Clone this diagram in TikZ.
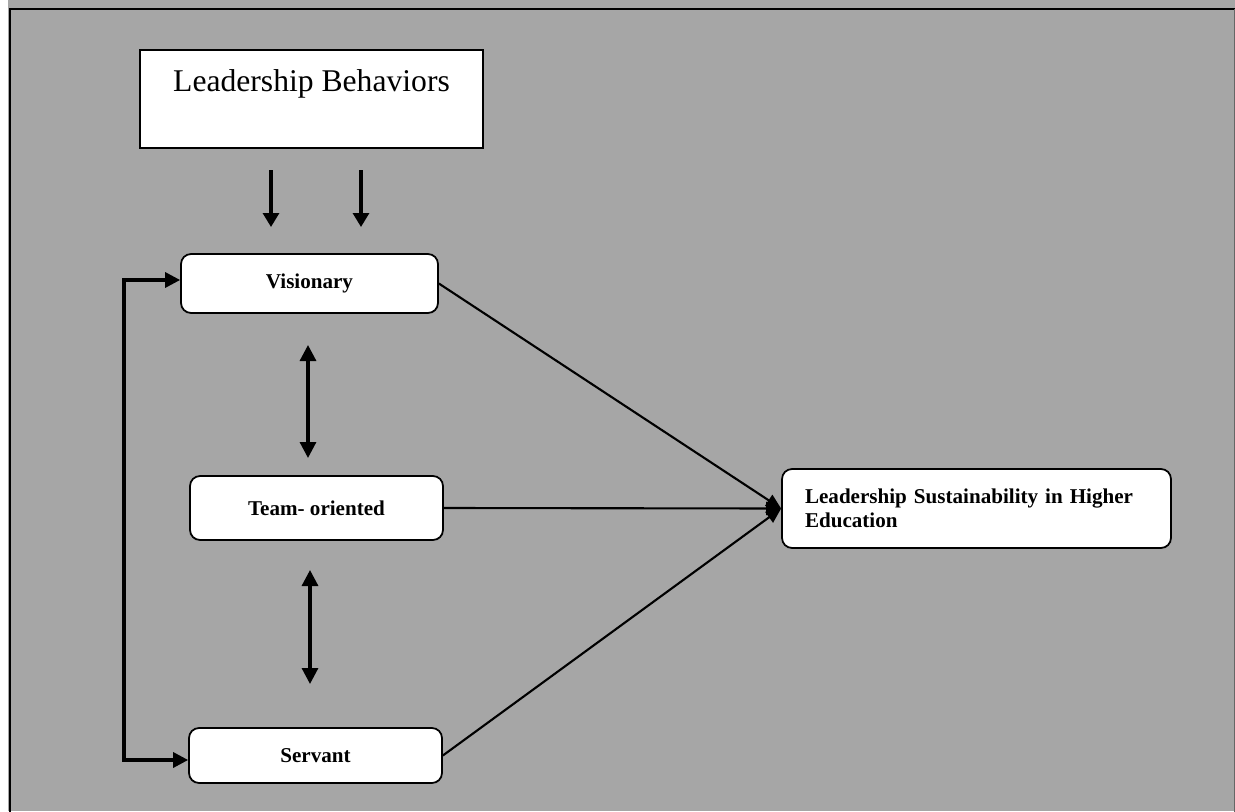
\documentclass[tikz,border=0pt]{standalone}
\usepackage{fontspec}
\setmainfont{Liberation Serif}
\usetikzlibrary{arrows.meta}
\definecolor{panel}{HTML}{A6A6A6}
\begin{document}
\begin{tikzpicture}[
			x=0.02cm, y=-0.02cm,
			box/.style={draw, fill=white, line width=1pt, rounded corners=0.2cm, font=\bfseries\fontsize{12}{14}\selectfont},
			arrow/.style={line width=1.8pt, -{Triangle[length=0.28cm, width=0.32cm]}},
			both/.style={line width=1.8pt, {Triangle[length=0.32cm, width=0.32cm]}-{Triangle[length=0.32cm, width=0.32cm]}},
			loop/.style={line width=1.8pt, {Triangle[length=0.3cm, width=0.3cm]}-{Triangle[length=0.3cm, width=0.3cm]}},
			link/.style={line width=1.2pt, -{Triangle[length=0.3cm, width=0.26cm]}}
		]
		\useasboundingbox (0,0) rectangle (1235,812);
		\fill[panel] (8,0) rectangle (1235,811);
		\draw[line width=1.1pt] (10,812) -- (10,9) -- (1235,9);
		\draw[black!60, line width=0.5pt] (1234,9) -- (1234,812);

		\node[draw, fill=white, line width=1.5pt, minimum width=6.86cm, minimum height=1.96cm, align=center, font=\fontsize{18}{21}\selectfont] (behav) at (311.5,99) {Leadership Behaviors\\~};
		\node[box, minimum width=5.14cm, minimum height=1.18cm] (vis) at (309.5,283.5) {Visionary};
		\node[box, minimum width=5.06cm, minimum height=1.28cm] (team) at (316.5,508) {Team- oriented};
		\node[box, minimum width=5.06cm, minimum height=1.1cm] (serv) at (315.5,755.5) {Servant};
		\node[box, minimum width=7.78cm, minimum height=1.58cm, text width=6.86cm, inner xsep=0.46cm, align=left] (sust) at (976.5,508.5) {Leadership Sustainability in Higher\\Education};

		\coordinate (d1) at (271,170);
		\coordinate (d1e) at (271,227);
		\coordinate (d2) at (361,170);
		\coordinate (d2e) at (361,227);
		\coordinate (u1) at (308,345);
		\coordinate (u1e) at (308,458);
		\coordinate (u2) at (310,570);
		\coordinate (u2e) at (310,684);
		\coordinate (fb) at (124,500);

		\draw[arrow] (d1) -- (d1e);
		\draw[arrow] (d2) -- (d2e);
		\draw[both] (u1) -- (u1e);
		\draw[both] (u2) -- (u2e);
		\draw[loop] ([yshift=0.07cm]vis.west) -| (fb) |- ([yshift=-0.09cm]serv.west);

		\draw[link] (vis.east) -- (sust.west);
		\draw[link] (team.east) -- (sust.west);
		\draw[link] (serv.east) -- (sust.west);
	\end{tikzpicture}
\end{document}
